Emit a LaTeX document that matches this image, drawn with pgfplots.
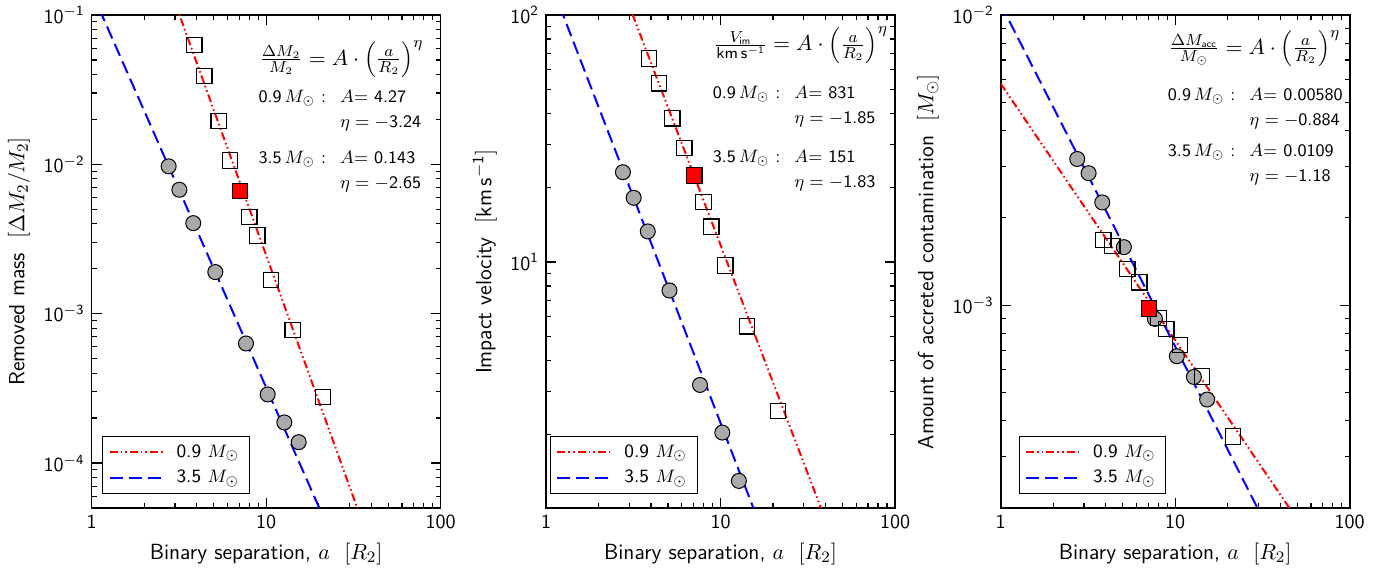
\documentclass[border=0pt]{standalone}
\usepackage{pgfplots}
\pgfplotsset{compat=1.18}
\definecolor{dotgray}{RGB}{170,170,170}

% settings shared by the three panels
\pgfplotsset{
  scale only axis, width=174.5pt, height=246.5pt,
  xmin=1, xmax=100,
  xtick={1,10,100}, xticklabels={1,10,100},
  tick align=inside,
  major tick length=5pt, minor tick length=2.5pt,
  every tick/.append style={black, line width=0.6pt},
  axis line style={line width=0.8pt},
  tick label style={font=\fontsize{10}{12}\selectfont\sffamily},
  label style={font=\fontsize{11}{13}\selectfont\sffamily},
  log number format basis/.code 2 args={$\mathsf{#1^{\pgfmathprintnumber{#2}}}$},
  xlabel={Binary separation, $a$\ \ $[R_2]$},
  legend cell align=left,
  legend image code/.code={\draw[#1] (0pt,0pt) -- (27pt,0pt);},
  legend style={anchor=south west, draw=black, fill=white,
    font=\fontsize{9.4}{11}\selectfont\sffamily,
    inner xsep=3pt, inner ysep=2pt, row sep=1pt,
    /tikz/every odd column/.append style={column sep=4pt}},
}
\tikzset{
  fitred/.style={red, line width=1pt, dash pattern=on 4pt off 1.5pt on 0.8pt off 1.5pt on 0.8pt off 1.5pt},
  fitblue/.style={blue, line width=1pt, dash pattern=on 6.5pt off 3pt},
  sq/.style={mark=square, mark size=3.85pt, mark options={draw=black, line width=0.6pt, solid}},
  sqred/.style={mark=square*, mark size=3.85pt, mark options={draw=black, fill=red, line width=0.6pt, solid}},
  circ/.style={mark=*, mark size=3.75pt, mark options={draw=black, fill=dotgray, line width=0.5pt, solid}},
  fitlaw/.style={anchor=west, inner sep=0pt, font=\fontsize{11}{13}\selectfont},
}

\newcommand{\fitblock}[5]{%
  \fontsize{8.8}{12.5}\selectfont\sffamily%
  \begin{tabular}[t]{@{}l@{\hspace{7pt}}l@{}}
  0.9\,$M_\odot$\ : & $A$= #1\\
   & $\eta = -$#2\\[#5]
  3.5\,$M_\odot$\ : & $A$= #3\\
   & $\eta = -$#4
  \end{tabular}}
\newcommand{\law}{A\cdot\left(\vrule height 7pt depth 4pt width 0pt\frac{a}{R_2}\right)^{\eta}}

\begin{document}
\begin{tikzpicture}
\path[use as bounding box] (-45.85pt,-32pt) rectangle (651.15pt,254pt);

% panel 1: removed mass
\begin{loglogaxis}[at={(0pt,0pt)}, anchor=south west,
  ymin=5e-5, ymax=1e-1,
  ylabel={Removed mass\ \ $[\Delta M_2/M_2]$},
  legend style={at={(rel axis cs:0.03,0.028)}}]
\addplot[fitred] coordinates {(1,4.27) (100,1.414e-6)};
\addlegendentry{0.9 $M_\odot$}
\addplot[fitblue] coordinates {(1,0.143) (100,7.167e-7)};
\addlegendentry{3.5 $M_\odot$}
\addplot[only marks, circ, forget plot] coordinates {
  (2.76,0.0097) (3.18,0.00676) (3.82,0.00404) (5.11,0.0019)
  (7.66,6.32e-4) (10.2,2.88e-4) (12.7,1.87e-4) (15.36,1.38e-4)};
\addplot[only marks, sq, forget plot] coordinates {
  (3.87,0.063) (4.42,0.039) (5.34,0.0195) (6.2,0.0106) (8.0,0.00443)
  (8.9,0.00334) (10.65,0.00168) (14.2,7.76e-4) (21.2,2.77e-4)};
\addplot[only marks, sqred, forget plot] coordinates {(7.08,0.00665)};
\node[fitlaw] at (rel axis cs:0.48,0.910) {$\frac{\Delta M_2}{M_2} = \law$};
\node[anchor=base west, inner sep=0pt] at (rel axis cs:0.477,0.822)
  {\fitblock{4.27}{3.24}{0.143}{2.65}{5.5pt}};
\end{loglogaxis}

% panel 2: impact velocity
\begin{loglogaxis}[at={(227.15pt,0pt)}, anchor=south west,
  ymin=1.01, ymax=100,
  ylabel={Impact velocity\ \ $[$km\,s$^{\mathsf{-1}}]$},
  legend style={at={(rel axis cs:0.0115,0.028)}}]
\addplot[fitred] coordinates {(1,831) (100,0.1658)};
\addlegendentry{0.9 $M_\odot$}
\addplot[fitblue] coordinates {(1,151) (100,0.03304)};
\addlegendentry{3.5 $M_\odot$}
\addplot[only marks, circ, forget plot] coordinates {
  (2.76,23.1) (3.18,18.2) (3.83,13.3) (5.10,7.67)
  (7.63,3.18) (10.24,2.04) (12.75,1.30)};
\addplot[only marks, sq, forget plot] coordinates {
  (3.90,66.7) (4.44,52.9) (5.30,38.2) (6.21,29.0) (8.0,17.5)
  (8.85,13.9) (10.65,9.69) (14.16,5.49) (21.3,2.49)};
\addplot[only marks, sqred, forget plot] coordinates {(7.08,22.4)};
\node[fitlaw] at (rel axis cs:0.48,0.939)
  {$\frac{V_{\mathsf{im}}}{\mathsf{km\,s^{-1}}} = \law$};
\node[anchor=base west, inner sep=0pt] at (rel axis cs:0.477,0.830)
  {\fitblock{831}{1.85}{151}{1.83}{7pt}};
\end{loglogaxis}

% panel 3: accreted contamination
\begin{loglogaxis}[at={(454.5pt,0pt)}, anchor=south west,
  ymin=2e-4, ymax=1e-2,
  ylabel={Amount of accreted contamination\ \ $[M_\odot]$},
  legend style={at={(rel axis cs:0.0516,0.028)}}]
\addplot[fitred] coordinates {(1,0.0058) (100,9.895e-5)};
\addlegendentry{0.9 $M_\odot$}
\addplot[fitblue] coordinates {(1,0.0109) (100,4.758e-5)};
\addlegendentry{3.5 $M_\odot$}
\addplot[only marks, circ, forget plot] coordinates {
  (2.745,3.19e-3) (3.19,2.85e-3) (3.82,2.26e-3) (5.08,1.585e-3)
  (7.65,8.97e-4) (10.22,6.67e-4) (12.8,5.66e-4) (15.24,4.73e-4)};
\addplot[only marks, sq, forget plot] coordinates {
  (3.87,1.675e-3) (4.36,1.60e-3) (5.31,1.334e-3) (6.22,1.20e-3) (8.03,9.04e-4)
  (8.88,8.29e-4) (10.67,7.28e-4) (14.27,5.68e-4) (21.4,3.53e-4)};
\addplot[only marks, sqred, forget plot] coordinates {(7.09,9.74e-4)};
\node[fitlaw] at (rel axis cs:0.48,0.932)
  {$\frac{\Delta M_{\mathsf{acc}}}{M_\odot} = \law$};
\node[anchor=base west, inner sep=0pt] at (rel axis cs:0.478,0.827)
  {\fitblock{0.00580}{0.884}{0.0109}{1.18}{3pt}};
\end{loglogaxis}
\end{tikzpicture}
\end{document}
